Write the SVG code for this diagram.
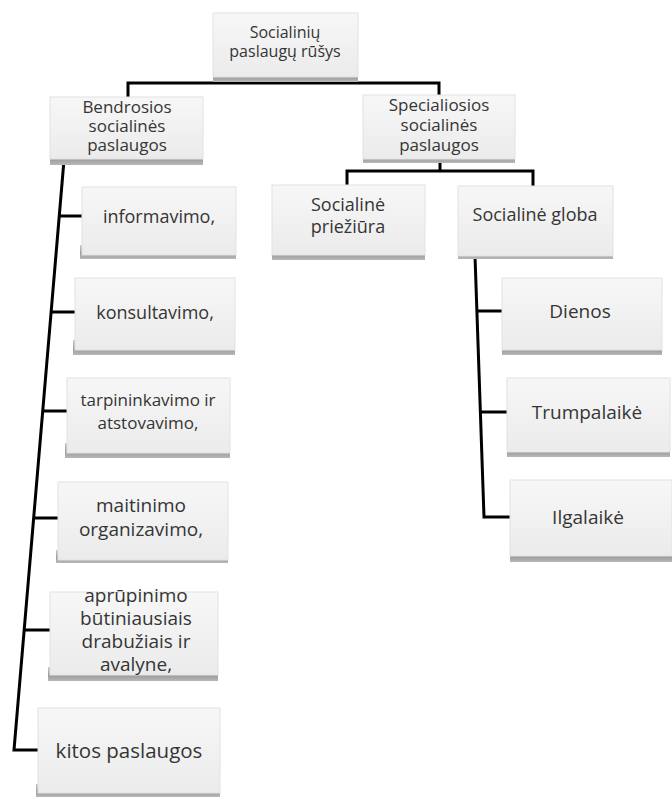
<svg xmlns="http://www.w3.org/2000/svg" width="672" height="801" viewBox="0 0 672 801">
<defs>
<linearGradient id="face" x1="0" y1="0" x2="0" y2="1">
<stop offset="0" stop-color="#f7f7f7"/>
<stop offset="1" stop-color="#ebebeb"/>
</linearGradient>
<linearGradient id="shade" x1="0" y1="0" x2="0" y2="1">
<stop offset="0" stop-color="#c8c8c8"/>
<stop offset="0.6" stop-color="#9c9c9c"/>
<stop offset="1" stop-color="#b8b8b8"/>
</linearGradient>
</defs>
<style>
.sh{fill:url(#shade);}
.bx{fill:url(#face);stroke:#e2e2e2;stroke-width:1;}
text{font-family:"Open Sans","Noto Sans","DejaVu Sans",sans-serif;fill:#353535;text-anchor:middle;dominant-baseline:central;font-size:18px;}
.t{font-size:16px;}
.m{font-size:17px;}
.l{font-size:19px;}
.c{fill:none;stroke:#000;stroke-width:3;}
</style>
<rect width="672" height="801" fill="#fff"/>
<g id="connectors">
<path class="c" d="M284 72V83M128 97V83H439V95"/>
<path class="c" d="M440 160V171M347 185V171H533V186"/>
<path class="c" d="M64 160L14 750H38"/>
<path class="c" d="M59.3 216H82M51.1 312H75M42.7 411H67M33.7 518H58M24.2 630H50"/>
<path class="c" d="M475 256L484 517H510M476.9 311H502M480.4 412H507"/>
</g>
<g id="n-root">
<rect class="sh" x="213" y="70" width="145" height="12"/>
<rect class="bx" x="213" y="13" width="145" height="64"/>
<text class="t" x="285" y="32">Socialinių</text>
<text class="t" x="285" y="51">paslaugų rūšys</text>
</g>
<g id="n-bendrosios">
<rect class="sh" x="50" y="150" width="153" height="15"/>
<rect class="bx" x="50" y="97" width="153" height="62"/>
<text class="m" x="127" y="106">Bendrosios</text>
<text class="m" x="127" y="125">socialinės</text>
<text class="m" x="127" y="144">paslaugos</text>
</g>
<g id="n-specialiosios">
<rect class="sh" x="363" y="150" width="152" height="13"/>
<rect class="bx" x="363" y="95" width="152" height="64"/>
<text class="m" x="439" y="104">Specialiosios</text>
<text class="m" x="439" y="124">socialinės</text>
<text class="m" x="439" y="144">paslaugos</text>
</g>
<g id="n-prieziura">
<rect class="sh" x="272" y="245" width="153" height="15"/>
<rect class="bx" x="272" y="185" width="153" height="70"/>
<text x="348" y="204">Socialinė</text>
<text x="348" y="226">priežiūra</text>
</g>
<g id="n-globa">
<rect class="sh" x="458" y="246" width="155" height="13"/>
<rect class="bx" x="458" y="186" width="155" height="70"/>
<text x="535" y="214">Socialinė globa</text>
</g>
<g id="n-informavimo">
<rect class="sh" x="80" y="245" width="156" height="14"/>
<rect class="bx" x="82" y="187" width="154" height="68"/>
<text x="159" y="216">informavimo,</text>
</g>
<g id="n-konsultavimo">
<rect class="sh" x="73" y="340" width="162" height="15"/>
<rect class="bx" x="75" y="278" width="160" height="72"/>
<text x="155" y="312">konsultavimo,</text>
</g>
<g id="n-tarpininkavimo">
<rect class="sh" x="65" y="443" width="165" height="15"/>
<rect class="bx" x="67" y="378" width="163" height="75"/>
<text class="m" x="148" y="399">tarpininkavimo ir</text>
<text class="m" x="148" y="422">atstovavimo,</text>
</g>
<g id="n-maitinimo">
<rect class="sh" x="56" y="550" width="172" height="13"/>
<rect class="bx" x="58" y="482" width="170" height="78"/>
<text x="141" y="505" class="l">maitinimo</text>
<text x="141" y="529" class="l">organizavimo,</text>
</g>
<g id="n-aprupinimo">
<rect class="sh" x="48" y="667" width="170" height="14"/>
<rect class="bx" x="50" y="592" width="168" height="83"/>
<text x="136" y="595" class="l">aprūpinimo</text>
<text x="136" y="618" class="l">būtiniausiais</text>
<text x="136" y="641" class="l">drabužiais ir</text>
<text x="136" y="664" class="l">avalyne,</text>
</g>
<g id="n-kitos">
<rect class="sh" x="36" y="784" width="184" height="13"/>
<rect class="bx" x="38" y="708" width="182" height="85"/>
<text x="129" y="750" style="font-size:20.5px">kitos paslaugos</text>
</g>
<g id="n-dienos">
<rect class="sh" x="502" y="342" width="160" height="13"/>
<rect class="bx" x="502" y="278" width="160" height="72"/>
<text x="580" y="311" style="font-size:19px">Dienos</text>
</g>
<g id="n-trumpalaike">
<rect class="sh" x="507" y="444" width="163" height="13"/>
<rect class="bx" x="507" y="378" width="163" height="74"/>
<text x="587" y="412" style="font-size:19px">Trumpalaikė</text>
</g>
<g id="n-ilgalaike">
<rect class="sh" x="510" y="549" width="162" height="13"/>
<rect class="bx" x="510" y="480" width="162" height="76"/>
<text x="588" y="517" style="font-size:19px">Ilgalaikė</text>
</g>
</svg>
